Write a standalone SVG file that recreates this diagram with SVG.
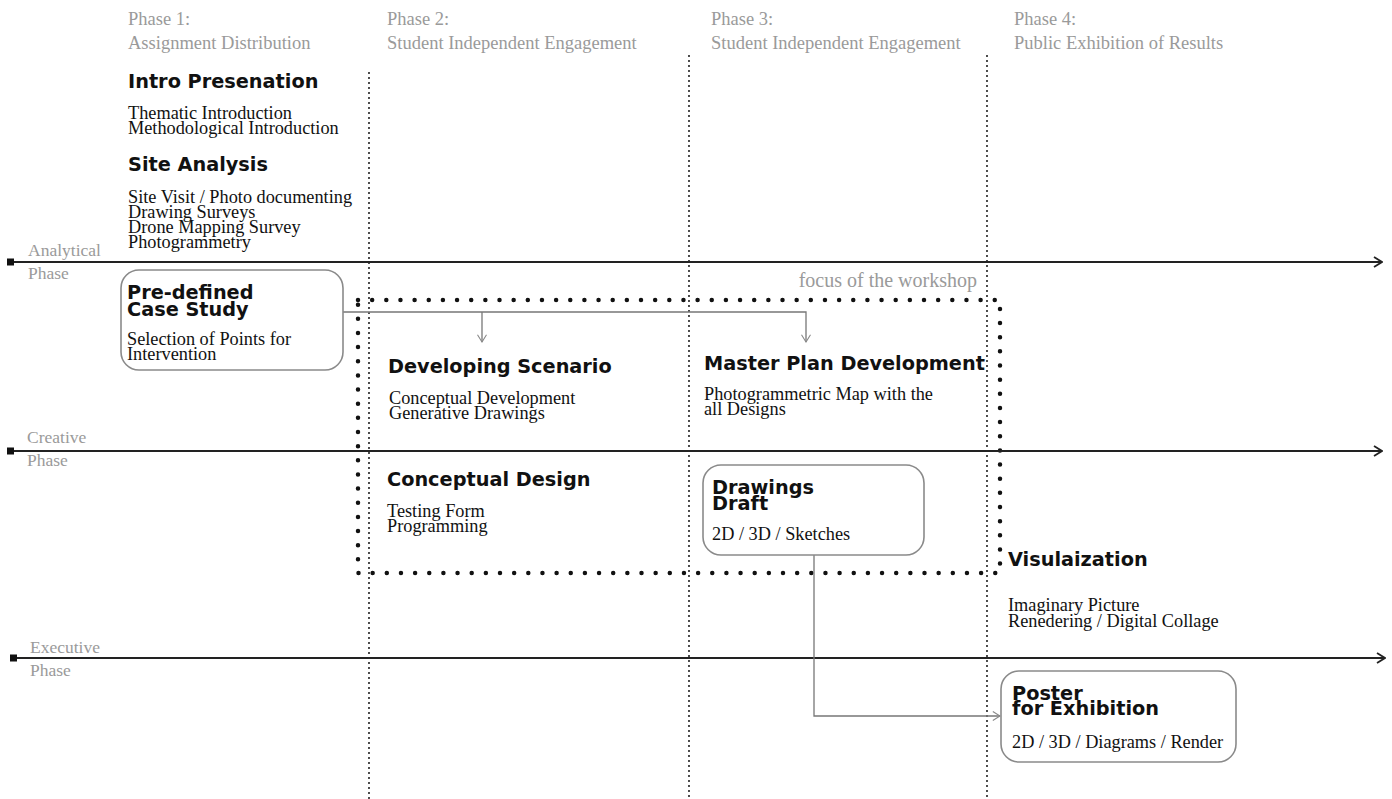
<svg xmlns="http://www.w3.org/2000/svg" width="1392" height="799" viewBox="0 0 1392 799">
<style>
.hdr{font-family:"Liberation Serif",serif;font-size:18.5px;fill:#9a9a9a}
.ax{font-family:"Liberation Serif",serif;font-size:17.5px;fill:#9a9a9a}
.ttl{font-family:"DejaVu Sans","Liberation Sans",sans-serif;font-weight:bold;font-size:19.3px;fill:#111}
.txt{font-family:"Liberation Serif",serif;font-size:18.3px;fill:#111}
.box{fill:none;stroke:#8a8a8a;stroke-width:1.6}
.vdot{stroke:#111;stroke-width:2;stroke-dasharray:0 5;stroke-linecap:round;fill:none}
.bdot{stroke:#111;stroke-width:4.5;stroke-dasharray:0 14.15;stroke-linecap:round;fill:none}
.axis{stroke:#222;stroke-width:2;fill:none}
.conn{stroke:#777;stroke-width:1.3;fill:none}
</style>
<defs>
<marker id="ah" viewBox="0 0 10 12" refX="9" refY="6" markerWidth="10" markerHeight="12" markerUnits="userSpaceOnUse" orient="auto">
<path d="M1,1 L9,6 L1,11" fill="none" stroke="#222" stroke-width="1.8"/>
</marker>
<marker id="ca" viewBox="0 0 10 12" refX="9" refY="6" markerWidth="9" markerHeight="11" markerUnits="userSpaceOnUse" orient="auto">
<path d="M1,1 L9,6 L1,11" fill="none" stroke="#888" stroke-width="1.2"/>
</marker>
</defs>
<rect width="1392" height="799" fill="#fff"/>

<g id="grid">
<line class="vdot" x1="369" y1="73" x2="369" y2="799"/>
<line class="vdot" x1="689" y1="56" x2="689" y2="799"/>
<line class="vdot" x1="987" y1="56" x2="987" y2="799"/>
<rect class="bdot" x="358" y="300" width="642" height="273"/>
</g>

<g id="axes">
<line class="axis" x1="10" y1="262" x2="1382" y2="262" marker-end="url(#ah)"/>
<rect x="7" y="258.5" width="7" height="7" fill="#111"/>
<line class="axis" x1="10" y1="451" x2="1382" y2="451" marker-end="url(#ah)"/>
<rect x="7" y="447.5" width="7" height="7" fill="#111"/>
<line class="axis" x1="13" y1="658" x2="1385" y2="658" marker-end="url(#ah)"/>
<rect x="10" y="654.5" width="7" height="7" fill="#111"/>
<text class="ax" x="28" y="256">Analytical</text>
<text class="ax" x="28" y="279">Phase</text>
<text class="ax" x="27" y="443">Creative</text>
<text class="ax" x="27" y="466">Phase</text>
<text class="ax" x="30" y="653">Executive</text>
<text class="ax" x="30" y="676">Phase</text>
</g>

<g id="headers">
<text class="hdr" x="128" y="25">Phase 1:</text>
<text class="hdr" x="128" y="49">Assignment Distribution</text>
<text class="hdr" x="387" y="25">Phase 2:</text>
<text class="hdr" x="387" y="49">Student Independent Engagement</text>
<text class="hdr" x="711" y="25">Phase 3:</text>
<text class="hdr" x="711" y="49">Student Independent Engagement</text>
<text class="hdr" x="1014" y="25">Phase 4:</text>
<text class="hdr" x="1014" y="49">Public Exhibition of Results</text>
<text class="hdr" x="977" y="287" text-anchor="end" style="font-size:20px">focus of the workshop</text>
</g>

<g id="connectors">
<polyline class="conn" points="343,312 806,312 806,342" marker-end="url(#ca)"/>
<line class="conn" x1="482" y1="312" x2="482" y2="342" marker-end="url(#ca)"/>
<polyline class="conn" points="814,555 814,716 1000,716" marker-end="url(#ca)"/>
</g>

<g id="intro">
<text class="ttl" x="128" y="88">Intro Presenation</text>
<text class="txt" x="128" y="119">Thematic Introduction</text>
<text class="txt" x="128" y="134">Methodological Introduction</text>
</g>

<g id="site">
<text class="ttl" x="128" y="171">Site Analysis</text>
<text class="txt" x="128" y="203">Site Visit / Photo documenting</text>
<text class="txt" x="128" y="218">Drawing Surveys</text>
<text class="txt" x="128" y="233">Drone Mapping Survey</text>
<text class="txt" x="128" y="248">Photogrammetry</text>
</g>

<g id="casestudy">
<rect class="box" x="121" y="270" width="222" height="100" rx="18"/>
<text class="ttl" x="127" y="299">Pre-defined</text>
<text class="ttl" x="127" y="316">Case Study</text>
<text class="txt" x="127" y="345">Selection of Points for</text>
<text class="txt" x="127" y="360">Intervention</text>
</g>

<g id="scenario">
<text class="ttl" x="388" y="373">Developing Scenario</text>
<text class="txt" x="389" y="404">Conceptual Development</text>
<text class="txt" x="389" y="419">Generative Drawings</text>
</g>

<g id="masterplan">
<text class="ttl" x="704" y="370">Master Plan Development</text>
<text class="txt" x="704" y="400">Photogrammetric Map with the</text>
<text class="txt" x="704" y="415">all Designs</text>
</g>

<g id="concept">
<text class="ttl" x="387" y="486">Conceptual Design</text>
<text class="txt" x="387" y="517">Testing Form</text>
<text class="txt" x="387" y="532">Programming</text>
</g>

<g id="drafts">
<rect class="box" x="703" y="465" width="221" height="90" rx="18"/>
<text class="ttl" x="712" y="494">Drawings</text>
<text class="ttl" x="712" y="510">Draft</text>
<text class="txt" x="712" y="540">2D / 3D / Sketches</text>
</g>

<g id="visual">
<text class="ttl" x="1008" y="566">Visulaization</text>
<text class="txt" x="1008" y="611">Imaginary Picture</text>
<text class="txt" x="1008" y="627">Renedering / Digital Collage</text>
</g>

<g id="poster">
<rect class="box" x="1001" y="671" width="235" height="91" rx="18"/>
<text class="ttl" x="1012" y="700">Poster</text>
<text class="ttl" x="1012" y="715">for Exhibition</text>
<text class="txt" x="1012" y="748">2D / 3D / Diagrams / Render</text>
</g>
</svg>
